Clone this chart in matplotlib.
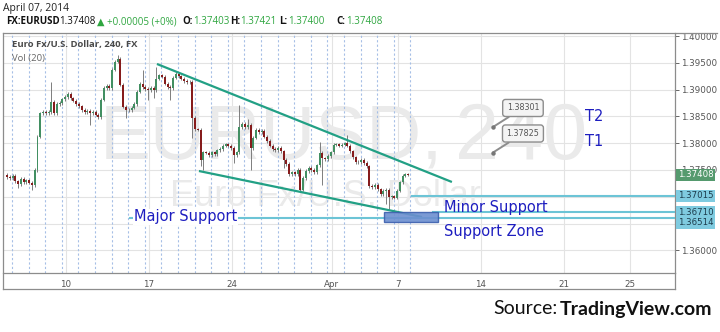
import matplotlib
matplotlib.use('Agg')
import matplotlib.pyplot as plt
from matplotlib.lines import Line2D
from matplotlib.patches import Rectangle
import numpy as np

# ---------------- data ----------------
first_day = 1.45          # trading-day index of first 4h bar (Mon 3 Mar = 0)
bars_per_day = 6
open0 = 1.3741
closes = [
    1.3737, 1.3735, 1.3739, 1.3729, 1.3724, 1.3733, 1.3727, 1.3731, 1.3726, 1.3722,
    1.3750, 1.3812, 1.3856, 1.3858, 1.3856, 1.3858, 1.3877, 1.3856, 1.3873, 1.3875,
    1.3882, 1.3886, 1.3892, 1.3884, 1.3879, 1.3873, 1.3869, 1.3862, 1.3858, 1.3860,
    1.3856, 1.3858, 1.3853, 1.3849, 1.3881, 1.3903, 1.3907, 1.3903, 1.3937, 1.3952,
    1.3957, 1.3909, 1.3868, 1.3862, 1.3862, 1.3866, 1.3873, 1.3896, 1.3911, 1.3905,
    1.3901, 1.3899, 1.3903, 1.3899, 1.3920, 1.3927, 1.3924, 1.3911, 1.3905, 1.3903,
    1.3922, 1.3929, 1.3925, 1.3920, 1.3916, 1.3914, 1.3914, 1.3847, 1.3826, 1.3825,
    1.3769, 1.3783, 1.3782, 1.3778, 1.3783, 1.3780, 1.3787, 1.3789, 1.3795, 1.3798,
    1.3795, 1.3791, 1.3778, 1.3783, 1.3830, 1.3836, 1.3830, 1.3834, 1.3791, 1.3810,
    1.3825, 1.3821, 1.3823, 1.3812, 1.3804, 1.3795, 1.3789, 1.3787, 1.3791, 1.3785,
    1.3769, 1.3761, 1.3742, 1.3746, 1.3742, 1.3750, 1.3713, 1.3735, 1.3748, 1.3754,
    1.3750, 1.3746, 1.3759, 1.3782, 1.3772, 1.3770, 1.3776, 1.3783, 1.3797, 1.3798,
    1.3795, 1.3797, 1.3800, 1.3795, 1.3785, 1.3774, 1.3765, 1.3765, 1.3769, 1.3763,
    1.3757, 1.3720, 1.3718, 1.3722, 1.3714, 1.3705, 1.3711, 1.3713, 1.3699, 1.3701,
    1.3698, 1.3711, 1.3727, 1.3739, 1.3742, 1.37408,
]
upper_wick_pips = [
    3, 3, 3, 3, 3, 3, 3, 3, 3, 3,
    3, 3, 3, 3, 3, 3, 37, 3, 3, 3,
    3, 3, 3, 3, 3, 3, 3, 3, 3, 3,
    3, 3, 3, 3, 3, 3, 3, 3, 3, 3,
    8, 3, 3, 3, 3, 3, 3, 3, 3, 26,
    3, 3, 3, 3, 22, 3, 3, 3, 3, 3,
    3, 3, 3, 3, 3, 3, 3, 3, 3, 3,
    3, 3, 3, 3, 3, 3, 3, 3, 3, 3,
    3, 3, 3, 3, 41, 3, 3, 11, 3, 3,
    3, 3, 3, 3, 3, 3, 3, 3, 3, 3,
    3, 3, 3, 3, 3, 3, 3, 3, 3, 3,
    3, 3, 3, 20, 3, 3, 3, 3, 3, 3,
    3, 3, 3, 16, 3, 3, 3, 3, 3, 3,
    3, 3, 3, 3, 3, 3, 3, 3, 3, 3,
    3, 3, 3, 3, 3, 2,
]
lower_wick_pips = [
    3, 3, 3, 3, 8, 3, 3, 3, 3, 9,
    3, 3, 3, 3, 3, 3, 3, 3, 3, 3,
    3, 3, 3, 3, 3, 3, 3, 3, 3, 3,
    22, 3, 3, 3, 3, 3, 3, 3, 3, 3,
    3, 3, 3, 15, 3, 3, 3, 3, 3, 3,
    3, 18, 3, 15, 3, 3, 3, 3, 3, 22,
    3, 3, 3, 3, 3, 3, 3, 37, 3, 3,
    12, 19, 3, 3, 3, 3, 3, 3, 3, 3,
    3, 3, 15, 3, 3, 3, 3, 3, 41, 3,
    3, 3, 3, 3, 3, 3, 3, 3, 3, 3,
    15, 3, 3, 3, 3, 3, 5, 3, 3, 3,
    3, 3, 3, 3, 50, 3, 3, 3, 3, 3,
    3, 3, 3, 3, 3, 3, 3, 3, 3, 3,
    3, 3, 3, 3, 3, 3, 3, 25, 24, 3,
    3, 3, 3, 3, 3, 2,
]
tick_days = [5, 10, 15, 21, 25, 30, 35, 39]
tick_labels = ['10', '17', '24', 'Apr', '7', '14', '21', '25']
price_ticks = [1.360, 1.365, 1.370, 1.375, 1.380, 1.385, 1.390, 1.395, 1.400]
hidden_price_ticks = [1.365, 1.370]   # covered by level tags in the reference
last_price = 1.37408
level_prices = [1.37015, 1.36710, 1.36600]
level_start_days = [25.84, 27.10, 8.86]
level_label_prices = [1.37015, 1.36710, 1.36514]
level_labels = ['1.37015', '1.36710', '1.36514']
upper_trend_days = [10.48, 28.25]
upper_trend_prices = [1.39478, 1.37276]
lower_trend_days = [13.01, 26.45]
lower_trend_prices = [1.37481, 1.36623]
zone_days = [24.16, 27.41]
zone_prices = [1.36530, 1.36716]
target_prices = [1.38301, 1.37825]
target_labels = ['1.38301', '1.37825']
target_names = ['T2', 'T1']

# ---------------- figure ----------------
W, H = 720, 332
fig = plt.figure(figsize=(7.2, 3.32), dpi=100)
fig.patch.set_facecolor('white')

def fx(x):
    return x / W

def fy(y):
    return 1 - y / H

ax = fig.add_axes([fx(3), fy(273), (675 - 3) / W, (273 - 33) / H])
ax.set_xlim(1.205, 41.69)
ax.set_ylim(1.35578, 1.40056)
ax.set_axisbelow(True)

# grid + axes
ax.set_xticks(tick_days)
ax.set_xticklabels(tick_labels)
ax.set_yticks(price_ticks)
ax.set_yticklabels(['' if any(abs(p - h) < 1e-9 for h in hidden_price_ticks)
                    else '%.5f' % p for p in price_ticks])
ax.grid(True, color='#e3e3e3', lw=0.8)
ax.yaxis.tick_right()
ax.tick_params(axis='y', length=3, width=0.7, pad=1.5, labelsize=6.3,
               colors='#666666', labelcolor='#555555')
ax.tick_params(axis='x', length=0, pad=5, labelsize=6.3, labelcolor='#555555')
for s in ['top', 'left']:
    ax.spines[s].set_visible(False)
for s in ['right', 'bottom']:
    ax.spines[s].set_color('#8c8c8c')
    ax.spines[s].set_linewidth(0.9)

# daily session separators
n = len(closes)
last_x = first_day + (n - 1) / bars_per_day
sess = np.arange(2, int(last_x) + 2) - 0.25
ax.vlines(sess, 1.35578, 1.40056, colors='#a6bfe6', lw=0.8,
          linestyles=(0, (2, 2)), zorder=1)

# watermark
tr = fig.transFigure
wm = '#eaeaea'
ax.text(fx(100), fy(159), 'EURUSD,', transform=tr, fontsize=55,
        family='Liberation Sans', color=wm, va='baseline', ha='left', zorder=0.6)
ax.text(fx(455), fy(159), '240', transform=tr, fontsize=57,
        family='Liberation Sans', color=wm, va='baseline', ha='left', zorder=0.6)
ax.text(fx(170), fy(206), 'Euro Fx/U.S. Dollar', transform=tr, fontsize=26,
        family='Liberation Sans', color=wm, va='baseline', ha='left', zorder=0.6)

# candles
c = np.array(closes)
o = np.array([open0] + closes[:-1])
xs = first_day + np.arange(n) / bars_per_day
hi = np.maximum(o, c) + np.array(upper_wick_pips) * 0.0001
lo = np.minimum(o, c) - np.array(lower_wick_pips) * 0.0001
up = c >= o
ax.vlines(xs, lo, hi, colors='#7d7d7d', lw=0.7, zorder=2)
bh = np.maximum(np.abs(c - o), 0.00007)
ax.bar(xs, bh, bottom=np.minimum(o, c), width=0.12,
       color=np.where(up, '#428f62', '#861c1c'), edgecolor='none', zorder=3)

# trend lines
tcol = '#22a085'
ax.plot(upper_trend_days, upper_trend_prices, color=tcol, lw=1.6, zorder=4,
        solid_capstyle='butt')
ax.plot(lower_trend_days, lower_trend_prices, color=tcol, lw=1.6, zorder=4,
        solid_capstyle='butt')

# horizontal levels
lcol = '#6cc4d6'
for p, d0 in zip(level_prices, level_start_days):
    ax.plot([d0, 41.69], [p, p], color=lcol, lw=1.5, zorder=4)

# support zone
ax.add_patch(Rectangle((zone_days[0], zone_prices[0]), zone_days[1] - zone_days[0],
                       zone_prices[1] - zone_prices[0], facecolor='#6d8fd0',
                       edgecolor='#3c5fae', lw=1.0, alpha=0.9, zorder=5))

# annotations
bcol = '#1e1ec0'
tk = dict(fontsize=10.5, color=bcol, family='DejaVu Sans', zorder=6, va='center', ha='left')
ax.text(9.10, 1.36625, 'Major Support', **tk,
        bbox=dict(boxstyle='square,pad=0.05', fc='white', ec='none'))
ax.text(27.77, 1.36791, 'Minor Support', **tk)
ax.text(27.77, 1.36344, 'Support Zone', **tk)
for p, name in zip(target_prices, target_names):
    ax.text(36.27, p + 0.00205, name, **tk)

# target callouts
for p, lab in zip(target_prices, target_labels):
    ax.annotate(lab, xy=(30.72, p), xytext=(32.53, p + 0.00356),
                fontsize=5.8, color='#555555', ha='center', va='center', zorder=7,
                bbox=dict(boxstyle='round,pad=0.5,rounding_size=0.35', fc='#f4f4f4',
                          ec='#8d8d8d', lw=1.0),
                arrowprops=dict(arrowstyle='-', color='#8d8d8d', lw=1.4,
                                shrinkA=0, shrinkB=0))
    ax.plot([30.72], [p], marker='o', ms=2.2, color='#777777', zorder=8)

# price-axis labels
ytr = ax.get_yaxis_transform()
for p, lab in zip(level_label_prices, level_labels):
    ax.text(1.004, p, lab, transform=ytr, fontsize=6.2, color='#1c3c4c',
            ha='left', va='center', clip_on=False, zorder=10,
            bbox=dict(boxstyle='square,pad=0.22', fc='#7fcbe0', ec='none'))
ax.text(1.004, last_price, '%.5f' % last_price, transform=ytr, fontsize=6.2,
        color='white', ha='left', va='center', clip_on=False, zorder=11,
        bbox=dict(boxstyle='square,pad=0.22', fc='#559a6e', ec='none'))

# frame
fc = '#8c8c8c'
for xx, yy in [([3, 3], [33, 289]), ([3, 717], [33, 33]), ([3, 675], [289, 289]),
               ([675, 675], [273, 289])]:
    fig.add_artist(Line2D([fx(v) for v in xx], [fy(v) for v in yy],
                          transform=fig.transFigure, color=fc, lw=0.9))

# header
fig.text(fx(3), fy(8), 'April 07, 2014', fontsize=7.5, family='Open Sans',
         color='#222222', va='center', ha='left')
green = '#2fa640'
hdr = [
    (6, 'FX:EURUSD', 'bold', '#111111', 'Open Sans'),
    (59, '1.37408', 'normal', '#111111', 'Open Sans'),
    (97, '\u25B2', 'normal', green, 'DejaVu Sans'),
    (107, '+0.00005 (+0%)', 'normal', green, 'Open Sans'),
    (182, 'O:', 'bold', '#111111', 'Open Sans'),
    (193, '1.37403', 'normal', green, 'Open Sans'),
    (230, 'H:', 'bold', '#111111', 'Open Sans'),
    (240, '1.37421', 'normal', green, 'Open Sans'),
    (279, 'L:', 'bold', '#111111', 'Open Sans'),
    (288, '1.37400', 'normal', green, 'Open Sans'),
    (336, 'C:', 'bold', '#111111', 'Open Sans'),
    (346, '1.37408', 'normal', green, 'Open Sans'),
]
for x0, s, w, col, fam in hdr:
    fig.text(fx(x0), fy(22), s, fontsize=7, fontweight=w, color=col,
             family=fam, va='center', ha='left')
fig.text(fx(12), fy(45), 'Euro Fx/U.S. Dollar, 240, FX', fontsize=6.8,
         fontweight='bold', color='#4a4a4a', family='Open Sans', va='center', ha='left')
fig.text(fx(12), fy(58), 'Vol (20)', fontsize=6.8, color='#666666',
         family='Open Sans', va='center', ha='left')

# source
fig.text(fx(493), fy(309), 'Source:', fontsize=14, family='Lato', color='#111111',
         va='center', ha='left')
fig.text(fx(560), fy(309), 'TradingView.com', fontsize=14, family='Lato',
         fontweight='bold', color='#111111', va='center', ha='left')

fig.savefig('out.png', dpi=100, facecolor='white')
